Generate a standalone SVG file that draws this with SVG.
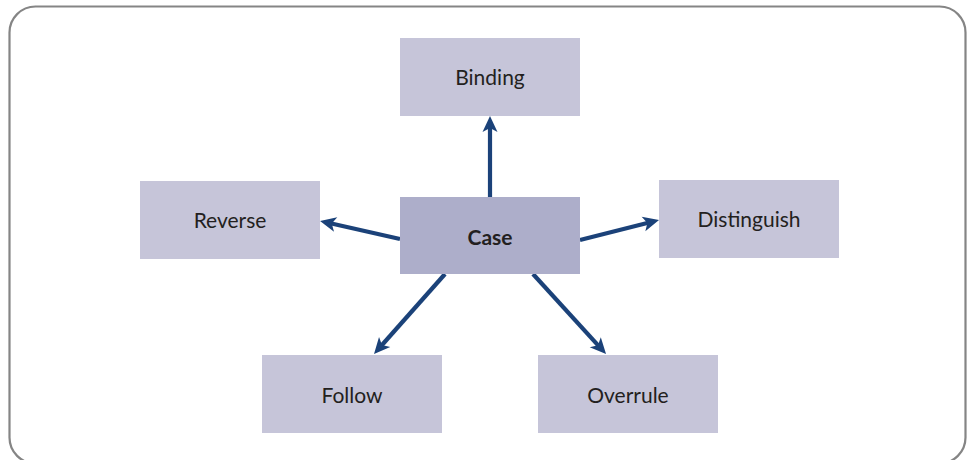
<svg xmlns="http://www.w3.org/2000/svg" width="969" height="460" viewBox="0 0 969 460">
  <style>
    .frame { fill: #ffffff; stroke: #858585; stroke-width: 2.2; }
    .box { fill: #c6c5d9; }
    .hub { fill: #adaeca; }
    .label { font-family: "Lato", "Open Sans", sans-serif; font-size: 21px; fill: #231f20; text-anchor: middle; dominant-baseline: central; }
    .bold { font-weight: bold; }
    .link { stroke: #1b4279; stroke-width: 4.2; fill: none; marker-end: url(#head); }
  </style>
  <defs>
    <marker id="head" markerUnits="userSpaceOnUse" markerWidth="20" markerHeight="20" viewBox="0 0 16 20" refX="10" refY="10" orient="auto">
      <path d="M0,2.5 L16,10 L0,17.5 L4,10 Z" fill="#1b4279"/>
    </marker>
  </defs>

  <rect class="frame" x="9.5" y="6.5" width="956" height="457" rx="26"/>

  <g id="connectors">
    <line class="link" x1="490" y1="197" x2="490" y2="122"/>
    <line class="link" x1="400" y1="239" x2="325.9" y2="222.3"/>
    <line class="link" x1="580" y1="240" x2="653.2" y2="221.5"/>
    <line class="link" x1="445" y1="274" x2="378" y2="349.5"/>
    <line class="link" x1="533" y1="274" x2="602" y2="349.6"/>
  </g>

  <g id="binding">
    <rect class="box" x="400" y="38" width="180" height="78"/>
    <text class="label" x="490" y="76">Binding</text>
  </g>
  <g id="case">
    <rect class="hub" x="400" y="197" width="180" height="77"/>
    <text class="label bold" x="490" y="236">Case</text>
  </g>
  <g id="reverse">
    <rect class="box" x="140" y="181" width="180" height="78"/>
    <text class="label" x="230" y="219">Reverse</text>
  </g>
  <g id="distinguish">
    <rect class="box" x="659" y="180" width="180" height="78"/>
    <text class="label" x="749" y="218">Distinguish</text>
  </g>
  <g id="follow">
    <rect class="box" x="262" y="355" width="180" height="78"/>
    <text class="label" x="352" y="394">Follow</text>
  </g>
  <g id="overrule">
    <rect class="box" x="538" y="355" width="180" height="78"/>
    <text class="label" x="628" y="394">Overrule</text>
  </g>
</svg>
